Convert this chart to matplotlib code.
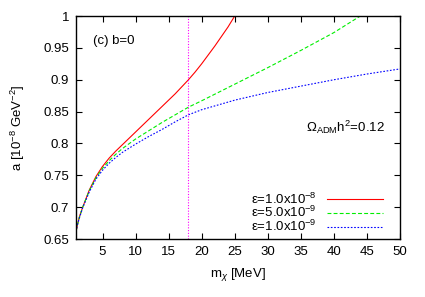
import matplotlib
matplotlib.use("Agg")
import matplotlib.pyplot as plt

plt.rcParams['font.family'] = ['Liberation Sans', 'DejaVu Sans']
plt.rcParams['mathtext.fontset'] = 'custom'
plt.rcParams['mathtext.rm'] = 'Liberation Sans'
plt.rcParams['mathtext.it'] = 'Liberation Sans:italic'

# data
x_red = [1, 1.2, 1.5, 2, 3, 4, 5, 6, 7, 8, 10, 12, 14, 16, 17, 18, 19, 20, 21, 22, 23, 24, 25]
a_red = [0.662, 0.672, 0.685, 0.700, 0.727, 0.748, 0.764, 0.777, 0.788, 0.798, 0.818,
         0.838, 0.858, 0.878, 0.889, 0.900, 0.912, 0.925, 0.939, 0.953, 0.968, 0.983, 1.0]

x_green = [1, 1.2, 1.5, 2, 3, 4, 5, 6, 7, 8, 10, 12, 14, 16, 18, 20, 25, 30, 35, 40, 44]
a_green = [0.662, 0.672, 0.684, 0.700, 0.726, 0.746, 0.761, 0.773, 0.783, 0.792, 0.807,
           0.820, 0.833, 0.845, 0.857, 0.867, 0.893, 0.919, 0.946, 0.974, 1.0]

x_blue = [1, 1.2, 1.5, 2, 3, 4, 5, 6, 7, 8, 10, 12, 14, 16, 18, 20, 25, 30, 35, 40, 45, 50]
a_blue = [0.662, 0.672, 0.683, 0.699, 0.724, 0.744, 0.758, 0.769, 0.778, 0.786, 0.799,
          0.811, 0.822, 0.834, 0.845, 0.853, 0.868, 0.880, 0.890, 0.900, 0.909, 0.917]

labels = [r'ε=1.0x10$^{-8}$', r'ε=5.0x10$^{-9}$', r'ε=1.0x10$^{-9}$']
x_ticks = [5, 10, 15, 20, 25, 30, 35, 40, 45, 50]
y_ticks = [0.65, 0.7, 0.75, 0.8, 0.85, 0.9, 0.95, 1.0]
y_tick_labels = ['0.65', '0.7', '0.75', '0.8', '0.85', '0.9', '0.95', '1']
m_vline = 18

fs = 9.5
fig = plt.figure(figsize=(4.25, 2.97), dpi=100)
ax = fig.add_axes([0.179, 0.195, 0.762, 0.751])

ax.plot(x_red, a_red, color='#ff0000', lw=0.8, ls='-', label=labels[0])
ax.plot(x_green, a_green, color='#00ee00', lw=0.8, ls=(0, (3.5, 2)), label=labels[1])
ax.plot(x_blue, a_blue, color='#0000ff', lw=0.8, ls=(0, (1.5, 1.5)), label=labels[2])
ax.axvline(m_vline, color='#ff00ff', lw=0.8, ls=(0, (1, 1.5)))

ax.set_xlim(1, 50)
ax.set_ylim(0.65, 1.0)
ax.set_xticks(x_ticks)
ax.set_yticks(y_ticks)
ax.set_yticklabels(y_tick_labels)
ax.tick_params(direction='in', top=True, right=True, labelsize=fs, length=4, width=0.8, pad=5)
for s in ax.spines.values():
    s.set_linewidth(1.0)

ax.set_xlabel(r'm$_{\chi}$ [MeV]', fontsize=fs, labelpad=6)
ax.set_ylabel(r'a [10$^{-8}$ GeV$^{-2}$]', fontsize=fs, labelpad=12)

ax.text(0.052, 0.89, '(c) b=0', transform=ax.transAxes, fontsize=fs, va='center')
ax.text(0.955, 0.50, r'$\Omega_{\rm ADM}$h$^2$=0.12', transform=ax.transAxes,
        fontsize=fs, ha='right', va='center')

leg = ax.legend(loc='lower right', bbox_to_anchor=(0.975, -0.02), frameon=False,
                markerfirst=False, fontsize=fs, handlelength=4.2, handletextpad=0.8,
                labelspacing=-0.1, borderpad=0.2)
for t in leg.get_texts():
    t.set_ha('right')

fig.savefig('out.png', dpi=100)
